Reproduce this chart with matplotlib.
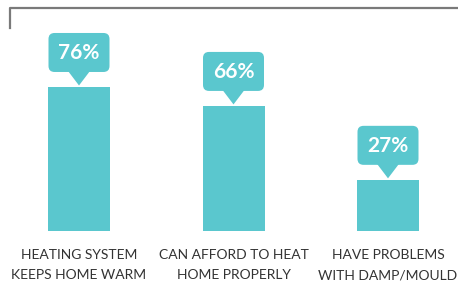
import matplotlib
matplotlib.use("Agg")
import matplotlib.pyplot as plt
import matplotlib.transforms as mtransforms
from matplotlib.patches import FancyBboxPatch, Polygon
from matplotlib.lines import Line2D

categories = ["HEATING SYSTEM\nKEEPS HOME WARM", "CAN AFFORD TO HEAT\nHOME PROPERLY", "HAVE PROBLEMS\nWITH DAMP/MOULD"]
values = [76, 66, 27]
value_labels = ["76%", "66%", "27%"]

TEAL = "#5AC7CE"
W, H, DPI = 458, 282, 100

fig = plt.figure(figsize=(W / DPI, H / DPI), dpi=DPI)
ax = fig.add_axes([0, 0, 1, 1])
ax.set_xlim(-79 / 154.5, (W - 79) / 154.5)
ax.set_ylim(-51 / 1.895, (H - 51) / 1.895)
ax.axis("off")

xs = list(range(len(values)))
ax.bar(xs, values, width=62 / 154.5, color=TEAL, linewidth=0)

px = 1 / DPI  # one pixel in inches
for x, v, lab in zip(xs, values, value_labels):
    tr = fig.dpi_scale_trans + mtransforms.ScaledTranslation(x, v, ax.transData)
    box = FancyBboxPatch((-30.5 * px, 15 * px), 61 * px, 39 * px,
                         boxstyle=f"round,pad=0,rounding_size={6 * px}",
                         transform=tr, fc=TEAL, ec="none")
    ax.add_patch(box)
    tri = Polygon([(-11 * px, 16 * px), (11 * px, 16 * px), (0, 1.5 * px)],
                  closed=True, transform=tr, fc=TEAL, ec="none")
    ax.add_patch(tri)
    ax.text(0, 28 * px, lab, transform=tr, ha="center", va="baseline",
            color="white", fontsize=15, fontweight="bold", family="Lato")

for x, c in zip(xs, categories):
    tr = fig.dpi_scale_trans + mtransforms.ScaledTranslation(x, 0, ax.transData)
    ax.text(0, -48 * px, c, transform=tr, ha="center", va="baseline",
            color="#333333", fontsize=10, family="Lato", linespacing=1.8)

# decorative frame line (top-left corner)
frame = Line2D([9.5 / W, 9.5 / W, 1.0], [1 - 28 / H, 1 - 7.5 / H, 1 - 7.5 / H],
               transform=fig.transFigure, color="#7a7a7a", lw=1.6,
               solid_joinstyle="round")
fig.add_artist(frame)

fig.savefig("out.png", dpi=DPI)
